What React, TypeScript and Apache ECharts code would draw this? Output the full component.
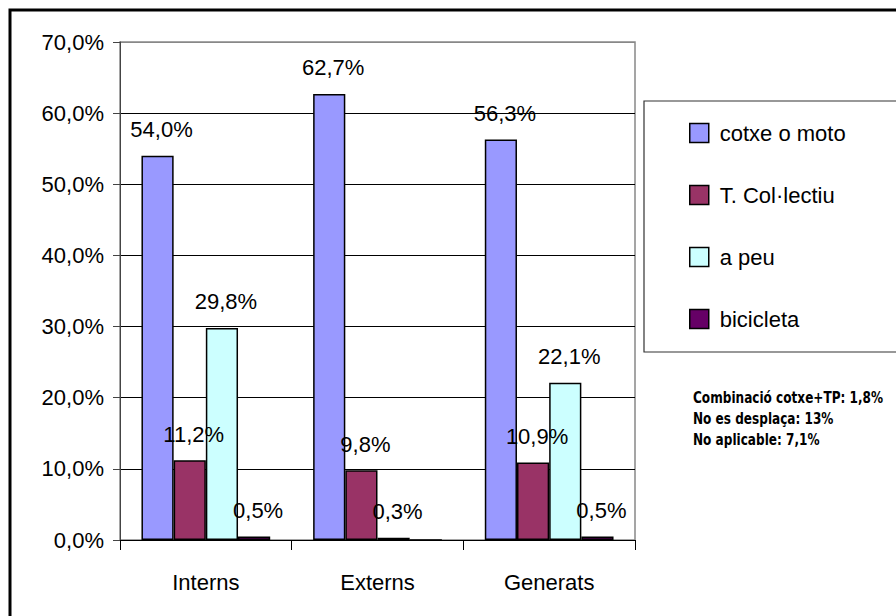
import React, { useEffect, useRef } from "react";
import * as echarts from "echarts";

const categories = ["Interns", "Externs", "Generats"];
const seriesNames = ["cotxe o moto", "T. Col·lectiu", "a peu", "bicicleta"];
const cotxe = [54.0, 62.7, 56.3];
const colectiu = [11.2, 9.8, 10.9];
const apeu = [29.8, 0.3, 22.1];
const bicicleta = [0.5, 0, 0.5];
const colors = ["#9999FF", "#993366", "#CCFFFF", "#660066"];
const notes = ["Combinació cotxe+TP: 1,8%", "No es desplaça: 13%", "No aplicable: 7,1%"];

const fmt = (v: number) => v.toFixed(1).replace(".", ",") + "%";

export default function App() {
  const ref = useRef<HTMLDivElement>(null);
  useEffect(() => {
    document.body.style.margin = "0";
    const chart = echarts.init(ref.current!, null, { renderer: "svg" });
    const font = "'Liberation Sans', Arial, sans-serif";
    const data = [cotxe, colectiu, apeu, bicicleta];
    chart.setOption({
      animation: false,
      backgroundColor: "#fff",
      textStyle: { fontFamily: font },
      grid: {
        left: 120,
        top: 42,
        width: 515,
        height: 498,
        show: true,
        borderColor: "#888",
        borderWidth: 1.5,
        backgroundColor: "transparent",
      },
      legend: {
        orient: "vertical",
        left: 689,
        top: 122,
        padding: 0,
        itemWidth: 19,
        itemHeight: 19,
        itemGap: 40,
        icon: "rect",
        itemStyle: { borderColor: "#000", borderWidth: 1.5 },
        textStyle: { fontSize: 22, color: "#000", fontFamily: font, padding: [0, 0, 0, 6] },
        data: seriesNames,
      },
      xAxis: {
        type: "category",
        data: categories,
        axisLine: { lineStyle: { color: "#000", width: 1 } },
        axisTick: { show: true, length: 10, lineStyle: { color: "#000" } },
        axisLabel: { fontSize: 22, color: "#000", margin: 31, fontFamily: font },
      },
      yAxis: {
        type: "value",
        min: 0,
        max: 70,
        interval: 10,
        axisLine: { show: true, lineStyle: { color: "#444", width: 1 } },
        axisTick: { show: true, length: 7, lineStyle: { color: "#444" } },
        axisLabel: {
          fontSize: 22,
          color: "#000",
          margin: 16,
          fontFamily: font,
          formatter: (v: number) => fmt(v),
        },
        splitLine: {
          show: true,
          lineStyle: {
            color: ["#000", "#000", "#000", "#000", "#000", "#000", "#000", "#888"],
            width: 1,
          },
        },
      },
      series: seriesNames.map((name, i) => ({
        name,
        type: "bar",
        data: data[i],
        barGap: "0%",
        barCategoryGap: "25%",
        itemStyle: { color: colors[i], borderColor: "#000", borderWidth: 1.5 },
        label: {
          show: true,
          position: "top",
          distance: 15,
          offset: [4, 0],
          fontSize: 22,
          color: "#000",
          fontFamily: font,
          formatter: (p: any) => (p.value === 0 ? "" : fmt(p.value)),
        },
      })),
      graphic: [
        {
          type: "rect",
          shape: { x: 10, y: 10, width: 900, height: 620 },
          style: { fill: "none", stroke: "#000", lineWidth: 3 },
          silent: true,
          z: 100,
        },
        {
          type: "rect",
          shape: { x: 644, y: 101, width: 300, height: 251 },
          style: { fill: "none", stroke: "#333", lineWidth: 1.2 },
          silent: true,
          z: 100,
        },
        ...notes.map((t, i) => ({
          type: "text",
          x: 693,
          y: 397 + i * 21,
          scaleX: 0.84,
          style: {
            text: t,
            fill: "#000",
            font: "bold 16px 'DejaVu Sans Condensed', sans-serif",
            textVerticalAlign: "middle",
          },
          z: 100,
        })),
      ],
    });
    return () => chart.dispose();
  }, []);
  return <div ref={ref} style={{ width: 896, height: 616 }} />;
}
